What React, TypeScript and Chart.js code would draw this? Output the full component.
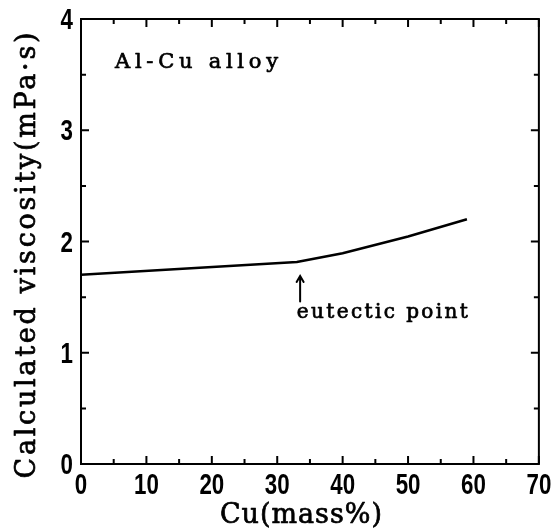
import { useEffect, useRef } from "react";
import { Chart, registerables } from "chart.js";

Chart.register(...registerables);

// Calculated viscosity of the Al-Cu melt against copper content
const cuMass = [0, 33, 40, 50, 59];
const viscosity = [1.7, 1.815, 1.895, 2.045, 2.2];

const xTicks = [0, 10, 20, 30, 40, 50, 60, 70];
const yTicks = [0, 1, 2, 3, 4];

// eutectic marker: arrow position (x) and its span (y), label anchors
const eutecticX = 33.5;
const arrowBottom = 1.46;
const arrowTop = 1.69;
const eutecticLabelX = 33.0;
const eutecticLabelY = 1.31;
const alloyLabelX = 5.2;
const alloyLabelY = 3.56;

const alloyLabel = "Al-Cu alloy";
const eutecticLabel = "eutectic point";
const xTitle = "Cu(mass%)";
const yTitle = "Calculated viscosity(mPa·s)";

const SERIF = "'DejaVu Serif', 'Liberation Serif', serif";
const TICK_FONT = "bold 29px 'Liberation Sans', Arimo, sans-serif";
const TICK_SQUEEZE = 0.77;

function spacedText(
  ctx: CanvasRenderingContext2D,
  text: string,
  x: number,
  y: number,
  width: number,
  align: "left" | "center"
) {
  (ctx as any).letterSpacing = "0px";
  const natural = ctx.measureText(text).width;
  const sp = (width - natural) / Math.max(1, text.length - 1);
  (ctx as any).letterSpacing = `${sp}px`;
  ctx.textAlign = "left";
  const start = align === "center" ? x - width / 2 : x;
  ctx.lineWidth = 0.7;
  ctx.lineJoin = "round";
  ctx.fillText(text, start, y);
  ctx.strokeText(text, start, y);
  (ctx as any).letterSpacing = "0px";
}

// condensed numerals for the tick labels
function squeezedText(
  ctx: CanvasRenderingContext2D,
  text: string,
  x: number,
  y: number,
  align: "center" | "right"
) {
  ctx.save();
  ctx.translate(x, y);
  ctx.scale(TICK_SQUEEZE, 1);
  ctx.textAlign = align;
  ctx.fillText(text, 0, 0);
  ctx.restore();
}

const framePlugin = {
  id: "frameAndNotes",
  afterDraw(chart: any) {
    const { ctx, chartArea, scales } = chart;
    const xs = scales.x;
    const ys = scales.y;
    const { left, right, top, bottom } = chartArea;
    ctx.save();
    ctx.strokeStyle = "#000";
    ctx.fillStyle = "#000";

    // frame
    ctx.lineWidth = 2;
    ctx.strokeRect(left, top, right - left, bottom - top);

    // inward ticks on all four sides
    ctx.beginPath();
    for (let v = xs.min; v <= xs.max + 1e-9; v += 5) {
      const len = v % 10 === 0 ? 8 : 5;
      const px = xs.getPixelForValue(v);
      ctx.moveTo(px, bottom);
      ctx.lineTo(px, bottom - len);
      ctx.moveTo(px, top);
      ctx.lineTo(px, top + len);
    }
    for (let v = ys.min; v <= ys.max + 1e-9; v += 0.5) {
      const len = Math.abs(v % 1) < 1e-9 ? 8 : 5;
      const py = ys.getPixelForValue(v);
      ctx.moveTo(left, py);
      ctx.lineTo(left + len, py);
      ctx.moveTo(right, py);
      ctx.lineTo(right - len, py);
    }
    ctx.stroke();

    // tick labels, taken from the scales' own ticks
    ctx.font = TICK_FONT;
    ctx.textBaseline = "alphabetic";
    xs.ticks.forEach((t: any) => {
      squeezedText(ctx, String(t.value), xs.getPixelForValue(t.value), bottom + 30, "center");
    });
    ys.ticks.forEach((t: any) => {
      squeezedText(ctx, String(t.value), left - 8, ys.getPixelForValue(t.value) + 10, "right");
    });

    // arrow pointing at the eutectic composition
    const ax = xs.getPixelForValue(eutecticX);
    const ay0 = ys.getPixelForValue(arrowBottom);
    const ay1 = ys.getPixelForValue(arrowTop);
    ctx.lineWidth = 2;
    ctx.lineCap = "round";
    ctx.beginPath();
    ctx.moveTo(ax, ay0);
    ctx.lineTo(ax, ay1 + 2);
    ctx.moveTo(ax - 3.5, ay1 + 6);
    ctx.lineTo(ax, ay1);
    ctx.lineTo(ax + 3.5, ay1 + 6);
    ctx.stroke();
    ctx.lineCap = "butt";

    ctx.textBaseline = "alphabetic";

    // in-plot labels
    ctx.font = `21px ${SERIF}`;
    spacedText(ctx, alloyLabel, xs.getPixelForValue(alloyLabelX), ys.getPixelForValue(alloyLabelY), 163, "left");
    ctx.font = `20px ${SERIF}`;
    spacedText(
      ctx,
      eutecticLabel,
      xs.getPixelForValue(eutecticLabelX),
      ys.getPixelForValue(eutecticLabelY),
      171,
      "left"
    );

    // axis titles
    ctx.font = `27px ${SERIF}`;
    spacedText(ctx, xTitle, (left + right) / 2 - 9, bottom + 59, 162, "center");

    ctx.translate(left - 46, (top + bottom) / 2 + 14);
    ctx.rotate(-Math.PI / 2);
    spacedText(ctx, yTitle, 0, 0, 446, "center");

    ctx.restore();
  },
};

export default function App() {
  const canvasRef = useRef<HTMLCanvasElement | null>(null);

  useEffect(() => {
    document.body.style.margin = "0";
    const canvas = canvasRef.current;
    if (!canvas) return;
    const chart = new Chart(canvas, {
      type: "line",
      data: {
        datasets: [
          {
            label: alloyLabel,
            data: cuMass.map((x, i) => ({ x, y: viscosity[i] })),
            borderColor: "#000",
            borderWidth: 2.5,
            pointRadius: 0,
            tension: 0,
            fill: false,
          },
        ],
      },
      options: {
        responsive: false,
        animation: false,
        devicePixelRatio: 1,
        layout: { padding: { top: 18, right: 16, left: 0, bottom: 0 } },
        plugins: {
          legend: { display: false },
          tooltip: { enabled: false },
        },
        scales: {
          x: {
            type: "linear",
            min: 0,
            max: 70,
            afterBuildTicks: (scale: any) => {
              scale.ticks = xTicks.map((value) => ({ value }));
            },
            afterFit: (scale: any) => {
              scale.height = 66;
            },
            ticks: {
              color: "rgba(0,0,0,0)",
              padding: 5,
              maxRotation: 0,
              font: { size: 20 },
            },
            grid: { display: false, drawTicks: false },
            border: { display: false },
          },
          y: {
            type: "linear",
            min: 0,
            max: 4,
            afterBuildTicks: (scale: any) => {
              scale.ticks = yTicks.map((value) => ({ value }));
            },
            afterFit: (scale: any) => {
              scale.width = 81;
            },
            ticks: {
              color: "rgba(0,0,0,0)",
              padding: 7,
              font: { size: 20 },
            },
            grid: { display: false, drawTicks: false },
            border: { display: false },
          },
        },
      },
      plugins: [framePlugin],
    });
    return () => chart.destroy();
  }, []);

  return (
    <div style={{ width: 555, height: 530, background: "#fff" }}>
      <canvas ref={canvasRef} width={555} height={530} style={{ display: "block" }} />
    </div>
  );
}
